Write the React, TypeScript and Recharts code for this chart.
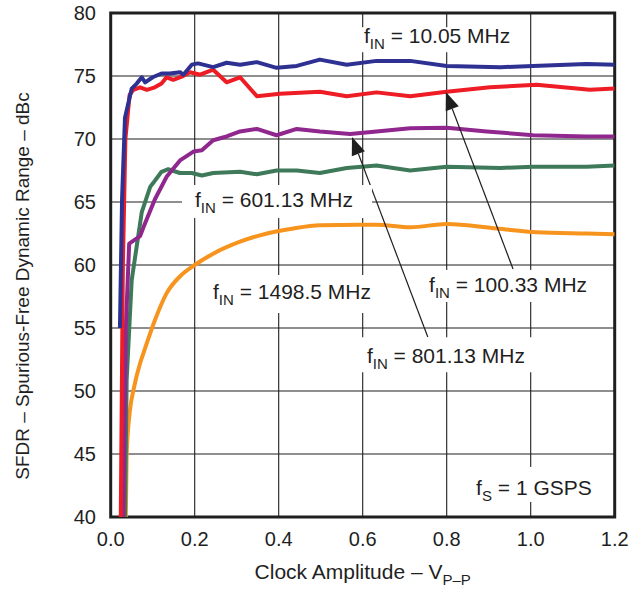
import React from 'react';
import {
  LineChart,
  Line,
  XAxis,
  YAxis,
  CartesianGrid,
  ReferenceDot,
  ReferenceLine,
  ReferenceArea,
  Label,
} from 'recharts';

// ---- tick labels ----
const xTicks = [0, 0.2, 0.4, 0.6, 0.8, 1.0, 1.2];
const yTicks = [40, 45, 50, 55, 60, 65, 70, 75, 80];

// ---- series values (x = clock amplitude Vpp, y = SFDR dBc) ----
const fin10 = [
  { x: 0.022, y: 55 }, { x: 0.027, y: 65.2 }, { x: 0.034, y: 71.7 }, { x: 0.05, y: 74.0 },
  { x: 0.062, y: 74.4 }, { x: 0.074, y: 74.9 }, { x: 0.082, y: 74.5 }, { x: 0.1, y: 74.9 },
  { x: 0.121, y: 75.2 }, { x: 0.141, y: 75.2 }, { x: 0.165, y: 75.3 }, { x: 0.173, y: 75.1 },
  { x: 0.193, y: 75.9 }, { x: 0.208, y: 76.0 }, { x: 0.244, y: 75.7 }, { x: 0.276, y: 76.05 },
  { x: 0.308, y: 75.9 }, { x: 0.348, y: 76.1 }, { x: 0.395, y: 75.65 }, { x: 0.443, y: 75.8 },
  { x: 0.498, y: 76.3 }, { x: 0.562, y: 75.9 }, { x: 0.633, y: 76.2 }, { x: 0.713, y: 76.2 },
  { x: 0.8, y: 75.8 }, { x: 0.928, y: 75.7 }, { x: 1.005, y: 75.8 }, { x: 1.133, y: 75.95 },
  { x: 1.2, y: 75.9 },
];

const fin100 = [
  { x: 0.024, y: 40 }, { x: 0.029, y: 60 }, { x: 0.035, y: 70 }, { x: 0.045, y: 73.5 },
  { x: 0.054, y: 73.9 }, { x: 0.07, y: 74.1 }, { x: 0.086, y: 73.9 }, { x: 0.105, y: 74.1 },
  { x: 0.121, y: 74.4 }, { x: 0.133, y: 74.9 }, { x: 0.149, y: 74.7 }, { x: 0.169, y: 74.95 },
  { x: 0.189, y: 75.3 }, { x: 0.213, y: 75.1 }, { x: 0.244, y: 75.5 }, { x: 0.276, y: 74.5 },
  { x: 0.308, y: 74.9 }, { x: 0.348, y: 73.4 }, { x: 0.403, y: 73.6 }, { x: 0.498, y: 73.75 },
  { x: 0.562, y: 73.4 }, { x: 0.633, y: 73.7 }, { x: 0.713, y: 73.4 }, { x: 0.8, y: 73.75 },
  { x: 0.903, y: 74.1 }, { x: 1.014, y: 74.3 }, { x: 1.141, y: 73.9 }, { x: 1.2, y: 74.0 },
];

const fin801 = [
  { x: 0.03, y: 40 }, { x: 0.036, y: 55 }, { x: 0.044, y: 61.7 }, { x: 0.07, y: 62.3 },
  { x: 0.078, y: 63.0 }, { x: 0.105, y: 65.2 }, { x: 0.133, y: 67.0 }, { x: 0.165, y: 68.3 },
  { x: 0.197, y: 69.0 }, { x: 0.217, y: 69.1 }, { x: 0.244, y: 69.9 }, { x: 0.276, y: 70.2 },
  { x: 0.308, y: 70.6 }, { x: 0.348, y: 70.8 }, { x: 0.395, y: 70.3 }, { x: 0.443, y: 70.8 },
  { x: 0.498, y: 70.6 }, { x: 0.57, y: 70.4 }, { x: 0.633, y: 70.6 }, { x: 0.713, y: 70.85 },
  { x: 0.8, y: 70.9 }, { x: 0.895, y: 70.6 }, { x: 1.006, y: 70.3 }, { x: 1.133, y: 70.2 },
  { x: 1.2, y: 70.2 },
];

const fin601 = [
  { x: 0.034, y: 40 }, { x: 0.038, y: 50.9 }, { x: 0.05, y: 58.8 }, { x: 0.062, y: 61.5 },
  { x: 0.074, y: 64.2 }, { x: 0.094, y: 66.2 }, { x: 0.101, y: 66.5 }, { x: 0.121, y: 67.4 },
  { x: 0.137, y: 67.6 }, { x: 0.165, y: 67.3 }, { x: 0.193, y: 67.3 }, { x: 0.217, y: 67.1 },
  { x: 0.244, y: 67.3 }, { x: 0.308, y: 67.4 }, { x: 0.348, y: 67.2 }, { x: 0.395, y: 67.5 },
  { x: 0.443, y: 67.5 }, { x: 0.498, y: 67.3 }, { x: 0.562, y: 67.7 }, { x: 0.633, y: 67.9 },
  { x: 0.713, y: 67.5 }, { x: 0.8, y: 67.8 }, { x: 0.928, y: 67.7 }, { x: 1.005, y: 67.8 },
  { x: 1.133, y: 67.8 }, { x: 1.2, y: 67.9 },
];

const fin1498 = [
  { x: 0.036, y: 40 }, { x: 0.038, y: 45 }, { x: 0.046, y: 48.5 }, { x: 0.055, y: 50.2 },
  { x: 0.07, y: 52.2 }, { x: 0.078, y: 53.0 }, { x: 0.105, y: 55.6 }, { x: 0.133, y: 57.75 },
  { x: 0.165, y: 59.1 }, { x: 0.2, y: 60.0 }, { x: 0.244, y: 60.9 }, { x: 0.308, y: 61.85 },
  { x: 0.372, y: 62.5 }, { x: 0.435, y: 62.9 }, { x: 0.498, y: 63.15 }, { x: 0.593, y: 63.2 },
  { x: 0.633, y: 63.2 }, { x: 0.713, y: 63.0 }, { x: 0.8, y: 63.25 }, { x: 0.919, y: 62.9 },
  { x: 1.014, y: 62.6 }, { x: 1.133, y: 62.5 }, { x: 1.2, y: 62.45 },
];

// ---- annotation texts (anchor = text start / baseline, in data units) ----
const annoMain = ['f', 'f', 'f', 'f', 'f', 'f'];
const annoSub = ['IN', 'IN', 'IN', 'IN', 'IN', 'S'];
const annoRest = [' = 10.05 MHz', ' = 601.13 MHz', ' = 1498.5 MHz', ' = 100.33 MHz', ' = 801.13 MHz', ' = 1 GSPS'];
const annoX = [0.603, 0.2007, 0.2436, 0.758, 0.61, 0.87];
const annoY = [77.6, 64.6, 57.3, 57.86, 52.2, 41.75];

// arrows: [tail, head]
const arrow100 = [{ x: 0.958, y: 59.68 }, { x: 0.798, y: 73.73 }];
const arrow801 = [{ x: 0.755, y: 54.29 }, { x: 0.5745, y: 70.16 }];

const FONT = '"Liberation Sans", Arial, Helvetica, sans-serif';
const INK = '#1f1f1f';

// box sizes around annotation text (layout only)
const boxes = [
  { bx: -4, by: -16, bw: 155, bh: 25 },
  { bx: -13, by: -22, bw: 190, bh: 33 },
  { bx: -8, by: -24, bw: 170, bh: 38 },
  { bx: -4, by: -22, bw: 167, bh: 32 },
  { bx: -7, by: -26, bw: 175, bh: 35 },
  { bx: -6, by: -28, bw: 128, bh: 35 },
];

const makeAnno = (i: number) => (props: any) => {
  const { cx, cy } = props;
  const b = boxes[i];
  return (
    <g>
      <rect x={cx + b.bx} y={cy + b.by} width={b.bw} height={b.bh} fill="#ffffff" />
      <text x={cx} y={cy} fontSize={21} fontFamily={FONT} fill={INK}>
        <tspan>{annoMain[i]}</tspan>
        <tspan fontSize={15} dy={6}>{annoSub[i]}</tspan>
        <tspan dy={-6}>{annoRest[i]}</tspan>
      </text>
    </g>
  );
};

const ArrowShape = (props: any) => {
  const { x1, y1, x2, y2 } = props;
  const ang = Math.atan2(y2 - y1, x2 - x1);
  const L = 18;
  const Wd = 7;
  const bx = x2 - L * Math.cos(ang);
  const by = y2 - L * Math.sin(ang);
  const px = -Math.sin(ang) * Wd;
  const py = Math.cos(ang) * Wd;
  return (
    <g>
      <line x1={x1} y1={y1} x2={bx} y2={by} stroke={INK} strokeWidth={1.2} />
      <polygon points={`${x2},${y2} ${bx + px},${by + py} ${bx - px},${by - py}`} fill={INK} />
    </g>
  );
};

const XTitle = (props: any) => {
  const vb = props.viewBox || { x: 110.7, y: 517, width: 504 };
  const cx = vb.x + vb.width / 2;
  return (
    <text x={cx} y={vb.y + 62} textAnchor="middle" fontSize={21} fontFamily={FONT} fill={INK}>
      <tspan>Clock Amplitude – V</tspan>
      <tspan fontSize={15} dy={6}>P–P</tspan>
    </text>
  );
};

const YTitle = () => (
  <text
    x={29}
    y={286}
    transform="rotate(-90, 29, 286)"
    textAnchor="middle"
    fontSize={19}
    fontFamily={FONT}
    fill={INK}
  >
    SFDR – Spurious-Free Dynamic Range – dBc
  </text>
);

const tickStyle = { fontSize: 20, fontFamily: FONT, fill: INK };

export default function App() {
  return (
    <div style={{ width: 629, height: 594, overflow: 'hidden' }}>
      <style>{'html,body{margin:0;padding:0;overflow:hidden;}'}</style>
      <LineChart
        width={629}
        height={594}
        margin={{ top: 13, right: 14.3, bottom: 17, left: 50.7 }}
      >
        <CartesianGrid stroke={INK} strokeWidth={1.1} horizontal vertical />
        <XAxis
          type="number"
          dataKey="x"
          domain={[0, 1.2]}
          ticks={xTicks}
          allowDataOverflow
          height={60}
          tickLine={false}
          tickSize={6}
          tickMargin={9}
          axisLine={false}
          tick={tickStyle}
          tickFormatter={(v: number) => v.toFixed(1)}
          interval={0}
        >
          <Label content={<XTitle />} />
        </XAxis>
        <YAxis
          type="number"
          domain={[40, 80]}
          ticks={yTicks}
          allowDataOverflow
          width={60}
          tickLine={false}
          tickSize={6}
          tickMargin={8.7}
          axisLine={false}
          tick={tickStyle}
          interval={0}
        >
          <Label content={<YTitle />} />
        </YAxis>

        {annoX.map((x, i) => (
          <ReferenceDot key={i} x={x} y={annoY[i]} r={0} shape={makeAnno(i)} />
        ))}

        <Line data={fin1498} dataKey="y" type="monotone" stroke="#f7941e" strokeWidth={4} dot={false} isAnimationActive={false} strokeLinejoin="round" />
        <Line data={fin601} dataKey="y" type="linear" stroke="#3e7a5a" strokeWidth={4} dot={false} isAnimationActive={false} strokeLinejoin="round" />
        <Line data={fin801} dataKey="y" type="linear" stroke="#90278e" strokeWidth={4} dot={false} isAnimationActive={false} strokeLinejoin="round" />
        <Line data={fin100} dataKey="y" type="linear" stroke="#ee1c25" strokeWidth={4} dot={false} isAnimationActive={false} strokeLinejoin="round" />
        <Line data={fin10} dataKey="y" type="linear" stroke="#2e3192" strokeWidth={4} dot={false} isAnimationActive={false} strokeLinejoin="round" />

        <ReferenceLine segment={arrow100} shape={ArrowShape} />
        <ReferenceLine segment={arrow801} shape={ArrowShape} />

        <ReferenceArea x1={0} x2={1.2} y1={40} y2={80} fill="none" fillOpacity={0} stroke={INK} strokeWidth={3} />
      </LineChart>
    </div>
  );
}
